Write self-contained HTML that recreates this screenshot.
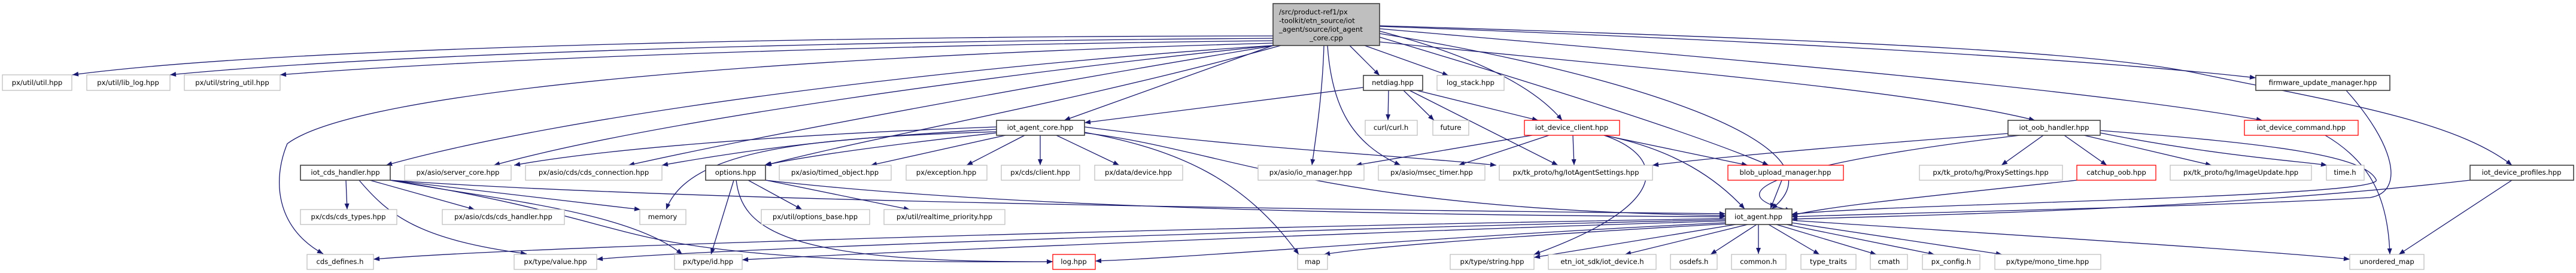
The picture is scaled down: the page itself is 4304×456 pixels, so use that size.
<!DOCTYPE html>
<html><head><meta charset="utf-8"><style>
html,body{margin:0;padding:0;background:#fff;}
svg{display:block;}
text{font-family:"DejaVu Sans","Liberation Sans",sans-serif;font-size:11.6px;fill:#000;}
.g{fill:#fff;stroke:#bfbfbf;stroke-width:1.3}
.b{fill:#fff;stroke:#404040;stroke-width:1.6}
.r{fill:#fff;stroke:#ff0000;stroke-width:1.3}
.e{fill:none;stroke:#191970;stroke-width:1.3;marker-end:url(#a)}
</style></head><body>
<svg width="4304" height="456" viewBox="0 0 4304 456" xmlns="http://www.w3.org/2000/svg">
<defs><marker id="a" viewBox="0 0 10 8" refX="10" refY="4" markerWidth="11" markerHeight="8" markerUnits="userSpaceOnUse" orient="auto"><path d="M0,0 L10,4 L0,8 z" fill="#191970"/></marker></defs>
<g>
<!-- edges from main -->
<path class="e" d="M2127,60 C1500,60 500,75 121,125"/>
<path class="e" d="M2127,64 C1500,68 700,85 284,125"/>
<path class="e" d="M2127,68 C1500,75 850,95 468,125"/>
<path class="e" d="M2127,72 C1300,95 600,150 480,240 C455,300 460,380 540,424"/>
<path class="e" d="M2127,76 C1600,110 950,190 645,276"/>
<path class="e" d="M2127,76 C1700,120 1100,200 825,276"/>
<path class="e" d="M2130,76 C1800,130 1300,220 1050,276"/>
<path class="e" d="M2140,76 C1800,170 1450,230 1279,276"/>
<path class="e" d="M2127,76 L1778,201"/>
<path class="e" d="M2212,76 C2210,150 2200,220 2192,276"/>
<path class="e" d="M2218,76 C2225,180 2260,240 2340,276"/>
<path class="e" d="M2255,76 L2305,126"/>
<path class="e" d="M2280,76 L2420,126"/>
<path class="e" d="M2305,52 C2450,90 2560,140 2610,201"/>
<path class="e" d="M2305,62 C2600,150 2850,230 2955,276"/>
<path class="e" d="M2305,56 C2700,120 3100,240 2960,349"/>
<path class="e" d="M2305,70 C2700,110 3200,150 3400,201"/>
<path class="e" d="M2305,48 C2900,100 3500,150 3780,201"/>
<path class="e" d="M2305,44 C3000,70 3500,100 3769,130"/>
<path class="e" d="M2305,43 C3200,70 3500,90 3660,120 C3900,170 4100,200 4197,276"/>
<!-- iot_agent_core -->
<path class="e" d="M1665,212 C1300,225 1000,250 859,276"/>
<path class="e" d="M1665,216 C1400,230 1250,250 1106,276"/>
<path class="e" d="M1665,222 C1500,240 1350,260 1277,276"/>
<path class="e" d="M1665,220 C1350,230 1150,250 1113,350"/>
<path class="e" d="M1680,226 L1455,276"/>
<path class="e" d="M1712,226 L1615,276"/>
<path class="e" d="M1738,226 L1738,276"/>
<path class="e" d="M1765,226 L1870,276"/>
<path class="e" d="M1812,221 C1970,250 2080,300 2170,425"/>
<path class="e" d="M1812,222 C2050,250 2200,350 2883,360"/>
<path class="e" d="M1812,212 C2100,250 2350,260 2500,276"/>
<!-- netdiag -->
<path class="e" d="M2278,146 L1812,205"/>
<path class="e" d="M2320,151 L2319,201"/>
<path class="e" d="M2345,151 L2396,201"/>
<path class="e" d="M2367,151 L2570,201"/>
<path class="e" d="M2355,151 L2603,276"/>
<!-- iot_device_client -->
<path class="e" d="M2560,226 L2265,276"/>
<path class="e" d="M2588,226 L2437,276"/>
<path class="e" d="M2628,226 L2630,276"/>
<path class="e" d="M2680,226 L2920,276"/>
<path class="e" d="M2680,226 C2800,250 2870,300 2915,349"/>
<path class="e" d="M2680,226 C2780,260 2800,340 2563,425"/>
<!-- blob -->
<path class="e" d="M2977,301 L2958,349"/>
<!-- iot_cds_handler -->
<path class="e" d="M578,301 L580,350"/>
<path class="e" d="M618,301 L793,350"/>
<path class="e" d="M652,301 L1070,350"/>
<path class="e" d="M600,301 C650,360 700,400 880,424"/>
<path class="e" d="M652,301 C800,330 1050,350 1140,425"/>
<path class="e" d="M652,301 C900,340 1000,380 1100,400 C1300,440 1600,438 1759,437"/>
<path class="e" d="M652,301 C1200,340 2400,352 2883,357"/>
<!-- options -->
<path class="e" d="M1250,301 L1340,350"/>
<path class="e" d="M1280,301 L1520,350"/>
<path class="e" d="M1226,301 L1188,425"/>
<path class="e" d="M1230,301 C1240,380 1300,440 1759,437"/>
<path class="e" d="M1279,301 C1700,350 2400,360 2883,362"/>
<!-- oob -->
<path class="e" d="M3414,226 L3344,276"/>
<path class="e" d="M3449,226 L3520,276"/>
<path class="e" d="M3482,226 L3695,276"/>
<path class="e" d="M3509,222 C3700,260 3850,270 3888,276"/>
<path class="e" d="M3509,218 C3800,240 3950,260 3970,300 C3990,330 3150,340 2993,358"/>
<path class="e" d="M3355,223 C3000,250 2850,265 2761,276"/>
<path class="e" d="M3375,226 C3000,270 2850,320 2993,352"/>
<!-- catchup -->
<path class="e" d="M3470,301 C3200,330 3050,345 2993,360"/>
<!-- firmware -->
<path class="e" d="M3920,151 C4000,240 4020,320 3960,330 C3700,345 3200,355 2993,362"/>
<!-- command -->
<path class="e" d="M3885,226 C3960,270 3990,330 3993,425"/>
<!-- profiles -->
<path class="e" d="M4127,301 C3700,350 3200,360 2993,366"/>
<path class="e" d="M4197,301 L4008,425"/>
<!-- iot_agent -->
<path class="e" d="M2883,365 C2000,380 900,410 624,433"/>
<path class="e" d="M2883,367 C2100,385 1200,415 997,433"/>
<path class="e" d="M2883,369 C2200,390 1400,425 1240,434"/>
<path class="e" d="M2883,372 C2400,395 2000,430 1830,436"/>
<path class="e" d="M2883,374 C2600,390 2300,410 2212,425"/>
<path class="e" d="M2900,375 L2563,430"/>
<path class="e" d="M2920,375 L2715,425"/>
<path class="e" d="M2935,375 L2858,425"/>
<path class="e" d="M2938,375 L2938,424"/>
<path class="e" d="M2955,375 L3040,425"/>
<path class="e" d="M2968,375 L3135,425"/>
<path class="e" d="M2985,375 L3232,425"/>
<path class="e" d="M2993,372 L3345,425"/>
<path class="e" d="M2993,368 C3400,395 3800,420 3926,433"/>
</g>
<g>
<rect x="2127" y="6" width="178" height="70" fill="#bfbfbf" stroke="#404040" stroke-width="1.6"/>
<text x="2137" y="24">/src/product-ref1/px</text>
<text x="2137" y="38.5">-toolkit/etn_source/iot</text>
<text x="2137" y="53">_agent/source/iot_agent</text>
<text x="2216" y="67.5" text-anchor="middle">_core.cpp</text>
</g>
<g text-anchor="middle">
<rect class="g" x="4" y="125" width="116" height="26"/><text x="62" y="142">px/util/util.hpp</text>
<rect class="g" x="145" y="125" width="139" height="26"/><text x="214" y="142">px/util/lib_log.hpp</text>
<rect class="g" x="308" y="125" width="160" height="26"/><text x="388" y="142">px/util/string_util.hpp</text>
<rect class="b" x="2278" y="126" width="99" height="25"/><text x="2327" y="142">netdiag.hpp</text>
<rect class="g" x="2401" y="126" width="112" height="25"/><text x="2457" y="142">log_stack.hpp</text>
<rect class="b" x="3769" y="126" width="224" height="25"/><text x="3881" y="142">firmware_update_manager.hpp</text>

<rect class="b" x="1665" y="201" width="147" height="25"/><text x="1738" y="217">iot_agent_core.hpp</text>
<rect class="g" x="2281" y="201" width="87" height="25"/><text x="2324" y="217">curl/curl.h</text>
<rect class="g" x="2394" y="201" width="60" height="25"/><text x="2424" y="217">future</text>
<rect class="r" x="2547" y="201" width="159" height="25"/><text x="2626" y="217">iot_device_client.hpp</text>
<rect class="b" x="3355" y="201" width="154" height="25"/><text x="3432" y="217">iot_oob_handler.hpp</text>
<rect class="r" x="3750" y="201" width="190" height="25"/><text x="3845" y="217">iot_device_command.hpp</text>

<rect class="b" x="502" y="276" width="150" height="25"/><text x="577" y="292">iot_cds_handler.hpp</text>
<rect class="g" x="676" y="276" width="178" height="25"/><text x="765" y="292">px/asio/server_core.hpp</text>
<rect class="g" x="878" y="276" width="228" height="25"/><text x="992" y="292">px/asio/cds/cds_connection.hpp</text>
<rect class="b" x="1179" y="276" width="100" height="25"/><text x="1229" y="292">options.hpp</text>
<rect class="g" x="1302" y="276" width="187" height="25"/><text x="1395" y="292">px/asio/timed_object.hpp</text>
<rect class="g" x="1514" y="276" width="135" height="25"/><text x="1581" y="292">px/exception.hpp</text>
<rect class="g" x="1673" y="276" width="131" height="25"/><text x="1738" y="292">px/cds/client.hpp</text>
<rect class="g" x="1829" y="276" width="147" height="25"/><text x="1902" y="292">px/data/device.hpp</text>
<rect class="g" x="2102" y="276" width="177" height="25"/><text x="2190" y="292">px/asio/io_manager.hpp</text>
<rect class="g" x="2303" y="276" width="178" height="25"/><text x="2392" y="292">px/asio/msec_timer.hpp</text>
<rect class="g" x="2505" y="276" width="256" height="25"/><text x="2633" y="292">px/tk_proto/hg/IotAgentSettings.hpp</text>
<rect class="r" x="2887" y="276" width="193" height="25"/><text x="2983" y="292">blob_upload_manager.hpp</text>
<rect class="g" x="3207" y="276" width="239" height="25"/><text x="3326" y="292">px/tk_proto/hg/ProxySettings.hpp</text>
<rect class="r" x="3470" y="276" width="132" height="25"/><text x="3536" y="292">catchup_oob.hpp</text>
<rect class="g" x="3626" y="276" width="236" height="25"/><text x="3744" y="292">px/tk_proto/hg/ImageUpdate.hpp</text>
<rect class="g" x="3887" y="276" width="63" height="25"/><text x="3918" y="292">time.h</text>
<rect class="b" x="4127" y="276" width="173" height="25"/><text x="4213" y="292">iot_device_profiles.hpp</text>

<rect class="g" x="502" y="350" width="161" height="25"/><text x="582" y="366">px/cds/cds_types.hpp</text>
<rect class="g" x="739" y="350" width="204" height="25"/><text x="841" y="366">px/asio/cds/cds_handler.hpp</text>
<rect class="g" x="1069" y="350" width="77" height="25"/><text x="1107" y="366">memory</text>
<rect class="g" x="1272" y="350" width="181" height="25"/><text x="1362" y="366">px/util/options_base.hpp</text>
<rect class="g" x="1477" y="350" width="202" height="25"/><text x="1578" y="366">px/util/realtime_priority.hpp</text>
<rect class="b" x="2883" y="349" width="111" height="26"/><text x="2938" y="366">iot_agent.hpp</text>

<rect class="g" x="513" y="425" width="111" height="25"/><text x="568" y="441">cds_defines.h</text>
<rect class="g" x="859" y="425" width="138" height="25"/><text x="928" y="441">px/type/value.hpp</text>
<rect class="g" x="1127" y="425" width="113" height="25"/><text x="1183" y="441">px/type/id.hpp</text>
<rect class="r" x="1759" y="425" width="71" height="25"/><text x="1794" y="441">log.hpp</text>
<rect class="g" x="2168" y="425" width="50" height="25"/><text x="2193" y="441">map</text>
<rect class="g" x="2423" y="425" width="140" height="25"/><text x="2493" y="441">px/type/string.hpp</text>
<rect class="g" x="2587" y="425" width="180" height="25"/><text x="2677" y="441">etn_iot_sdk/iot_device.h</text>
<rect class="g" x="2791" y="425" width="78" height="25"/><text x="2830" y="441">osdefs.h</text>
<rect class="g" x="2893" y="425" width="91" height="25"/><text x="2938" y="441">common.h</text>
<rect class="g" x="3009" y="425" width="92" height="25"/><text x="3055" y="441">type_traits</text>
<rect class="g" x="3125" y="425" width="62" height="25"/><text x="3156" y="441">cmath</text>
<rect class="g" x="3212" y="425" width="96" height="25"/><text x="3260" y="441">px_config.h</text>
<rect class="g" x="3333" y="425" width="177" height="25"/><text x="3421" y="441">px/type/mono_time.hpp</text>
<rect class="g" x="3926" y="425" width="124" height="25"/><text x="3988" y="441">unordered_map</text>
</g>
</svg>
</body></html>
